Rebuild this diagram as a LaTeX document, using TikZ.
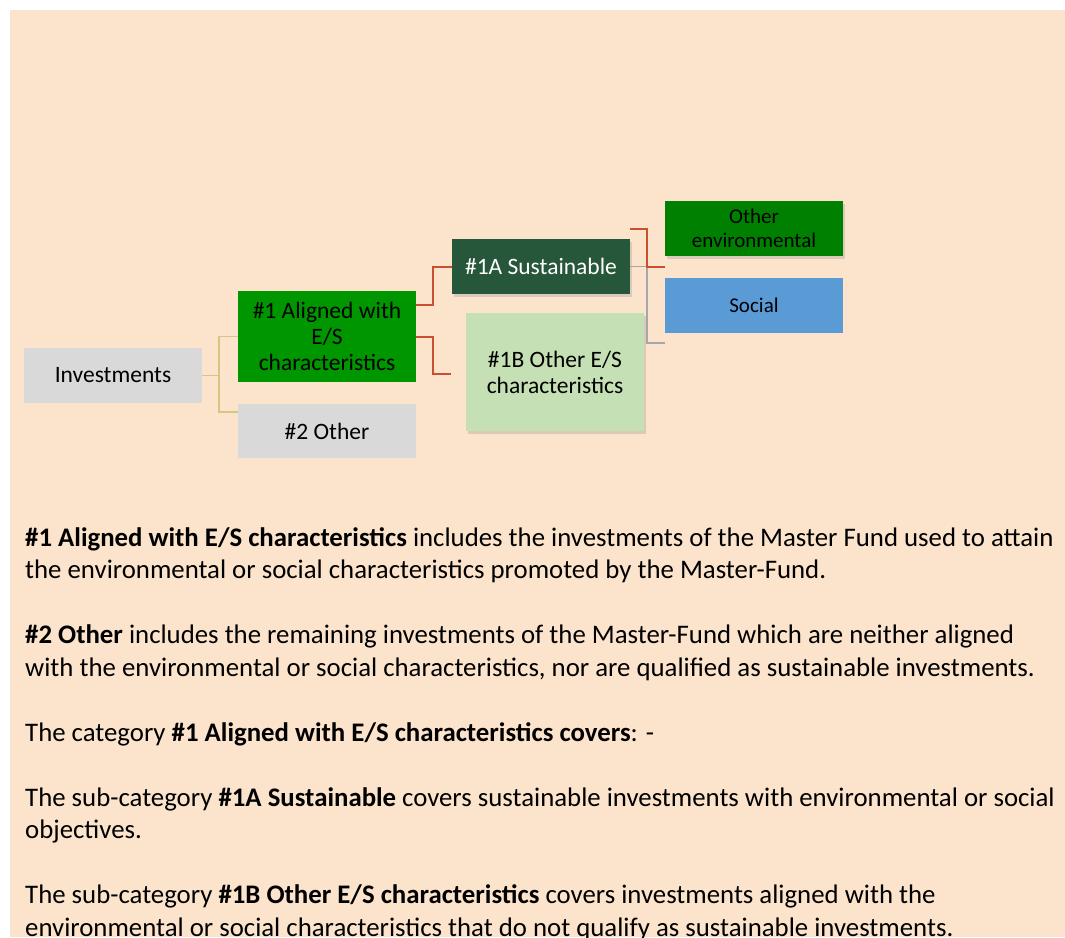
\documentclass[tikz,border=0pt]{standalone}
\usepackage{fontspec}
\setmainfont{Carlito}
\usetikzlibrary{shadows}
\definecolor{peach}{HTML}{FCE4CC}
\definecolor{boxgrey}{HTML}{D9D9D9}
\definecolor{alignedgreen}{HTML}{009600}
\definecolor{sustgreen}{HTML}{26573A}
\definecolor{palegreen}{HTML}{C5E0B4}
\definecolor{envgreen}{HTML}{008000}
\definecolor{socialblue}{HTML}{5B9BD5}
\definecolor{linkred}{HTML}{C8502D}
\definecolor{linkolive}{HTML}{D2C882}
\definecolor{linkgrey}{HTML}{A6A6A6}

\begin{document}
\begin{tikzpicture}[x=1pt,y=-1pt,
		box/.style={minimum width=178pt,minimum height=55pt,inner sep=0pt,align=center,
			font=\fontsize{23.5}{26}\selectfont},
		smallbox/.style={box,font=\fontsize{21}{24}\selectfont},
		shade/.style={drop shadow={opacity=0.25,shadow xshift=2pt,shadow yshift=-3pt}},
		textline/.style={anchor=base west,inner sep=0pt,font=\fontsize{26.8}{32.5}\selectfont},
		redlink/.style={draw=linkred,line width=2pt},
		olivelink/.style={draw=linkolive,line width=1.5pt},
		greylink/.style={draw=linkgrey,line width=1.5pt}]
		\useasboundingbox (0,0) rectangle (1065,937);
		\fill[peach] (10,10) rectangle (1065,937);
		%% The Boxes of the Tree
		\node[box,fill=boxgrey] (inv) at (113,375.5) {Investments};
		\node[box,fill=alignedgreen,minimum height=91pt] (al) at (327,336.5)
			{\#1 Aligned with\\E/S\\characteristics};
		\node[box,fill=boxgrey,minimum height=54pt] (oth) at (327,431) {\#2 Other};
		\node[box,shade,fill=sustgreen,text=white] (sus) at (541,266.5) {\#1A Sustainable};
		\node[box,shade,fill=palegreen,minimum height=118pt] (obs) at (555,372)
			{\#1B Other E/S\\characteristics};
		\node[smallbox,shade,fill=envgreen] (env) at (754,228.5) {Other\\environmental};
		\node[smallbox,fill=socialblue] (soc) at (754,305.5) {Social};
		%% Connecting the Boxes
		\draw[olivelink] (inv.east) -- ++(17,0) coordinate (fork) |- (al.west);
		\draw[olivelink] (fork) |- ([yshift=19pt]oth.west);
		\draw[redlink] ([yshift=32pt]al.east) -- ++(17,0) |- (sus.west);
		\draw[redlink] (al.east) -- ++(17,0) |- ([xshift=-15pt,yshift=-2pt]obs.west);
		\draw[greylink] (sus.east) -- ++(17,0) |- ([yshift=-10pt]soc.south west);
		\draw[redlink] (sus.east |- env.west) -- ++(17,0) |- (env.west |- sus.east);
		%% The Text Below
		\path (25,546)   node[textline] (t1) {\textbf{\#1 Aligned with E/S characteristics} includes the investments of the Master Fund used to attain}
			  (25,578.5) node[textline] (t2) {the environmental or social characteristics promoted by the Master-Fund.}
			  (25,643.5) node[textline] (t3) {\textbf{\#2 Other} includes the remaining investments of the Master-Fund which are neither aligned}
			  (25,676)   node[textline] (t4) {with the environmental or social characteristics, nor are qualified as sustainable investments.}
			  (25,741)   node[textline] (t5) {The category \textbf{\#1 Aligned with E/S characteristics covers}: -}
			  (25,806)   node[textline] (t6) {The sub-category \textbf{\#1A Sustainable} covers sustainable investments with environmental or social}
			  (25,838.5) node[textline] (t7) {objectives.}
			  (25,903.5) node[textline] (t8) {The sub-category \textbf{\#1B Other E/S characteristics} covers investments aligned with the}
			  (25,936)   node[textline] (t9) {environmental or social characteristics that do not qualify as sustainable investments.};
	\end{tikzpicture}
\end{document}
